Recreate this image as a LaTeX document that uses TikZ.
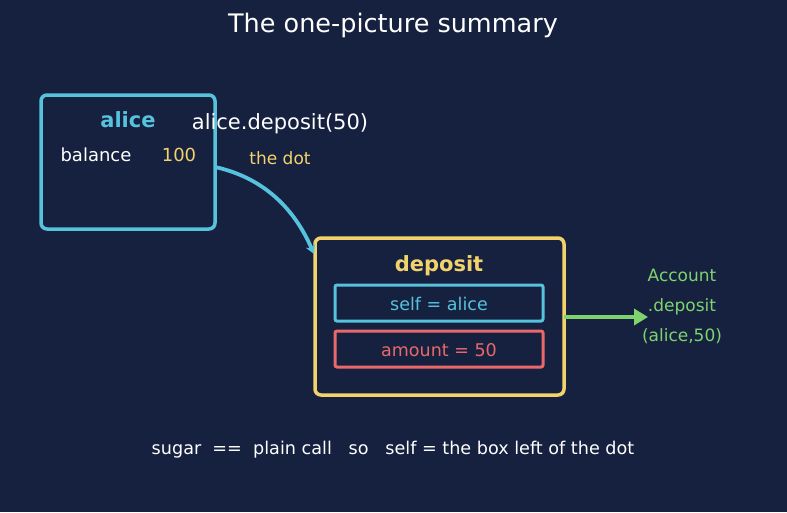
\documentclass[tikz,border=0pt]{standalone}
\usepackage{fontspec}
\setmainfont{DejaVu Sans}
\usetikzlibrary{arrows.meta}
\definecolor{bg}{RGB}{22,33,64}
\definecolor{cy}{RGB}{86,194,220}
\definecolor{yl}{RGB}{242,211,107}
\definecolor{rd}{RGB}{234,104,106}
\definecolor{gr}{RGB}{126,211,111}
\tikzset{
  box/.style={draw, rounded corners=6pt, line width=3.5pt},
  slot/.style={draw, rounded corners=2pt, line width=3pt},
  lbl/.style={inner sep=0pt, anchor=center, text height=0.73em, text depth=0.1em, yshift=-4pt},
}
\begin{document}
\begin{tikzpicture}[x=1pt,y=-1pt]
\fill[bg] (0,0) rectangle (787,512);
\useasboundingbox (0,0) rectangle (787,512);
\node[lbl, text=white, font=\fontsize{25.5}{28}\selectfont] (title) at (393,25) {The one-picture summary};
% alice box
\draw[box, cy] (41,95) rectangle (215,229);
\coordinate (aliceR) at (215,167);
\node[lbl, text=cy, font=\fontsize{21}{24}\selectfont\bfseries] (alice) at (128,120) {alice};
\node[lbl, text=white, font=\fontsize{18}{20}\selectfont] (bal) at (96,154) {balance};
\node[lbl, text=yl, font=\fontsize{18}{20}\selectfont] (hundred) at (179,154) {100};
\node[lbl, text=white, font=\fontsize{21}{24}\selectfont] (call) at (280,122) {alice.deposit(50)};
\node[lbl, text=yl, font=\fontsize{17}{20}\selectfont] (dot) at (280,157) {the dot};
% deposit box
\draw[box, yl] (315,238) rectangle (564,395);
\coordinate (depL) at (314,254);
\coordinate (depR) at (564,317);
\node[lbl, text=yl, font=\fontsize{21}{24}\selectfont\bfseries] (dep) at (439,264) {deposit};
\draw[slot, cy] (335,285) rectangle (543,321);
\node[lbl, text=cy, font=\fontsize{17.5}{20}\selectfont] (self) at (439,303) {self = alice};
\draw[slot, rd] (335,331) rectangle (543,367);
\node[lbl, text=rd, font=\fontsize{17.5}{20}\selectfont] (amt) at (439,349) {amount = 50};
% arrows
\draw[cy, line width=3.8pt, -{Stealth[length=9pt,width=10pt]}] (aliceR) .. controls (265,178) and (295,210) .. (depL);
\coordinate (arrEnd) at (648,317);
\draw[gr, line width=3.8pt, -{Triangle[length=14pt,width=16pt]}] (depR) -- (arrEnd);
\node[lbl, text=gr, font=\fontsize{17}{20}\selectfont] (acc1) at (682,274) {Account};
\node[lbl, text=gr, font=\fontsize{17}{20}\selectfont] (acc2) at (682,304) {.deposit};
\node[lbl, text=gr, font=\fontsize{17}{20}\selectfont] (acc3) at (682,334) {(alice,50)};
\node[lbl, text=white, font=\fontsize{17.6}{20}\selectfont] (foot) at (393,447) {sugar\ \ ==\ \ plain call\ \ \ so\ \ \ self = the box left of the dot};
\end{tikzpicture}
\end{document}
